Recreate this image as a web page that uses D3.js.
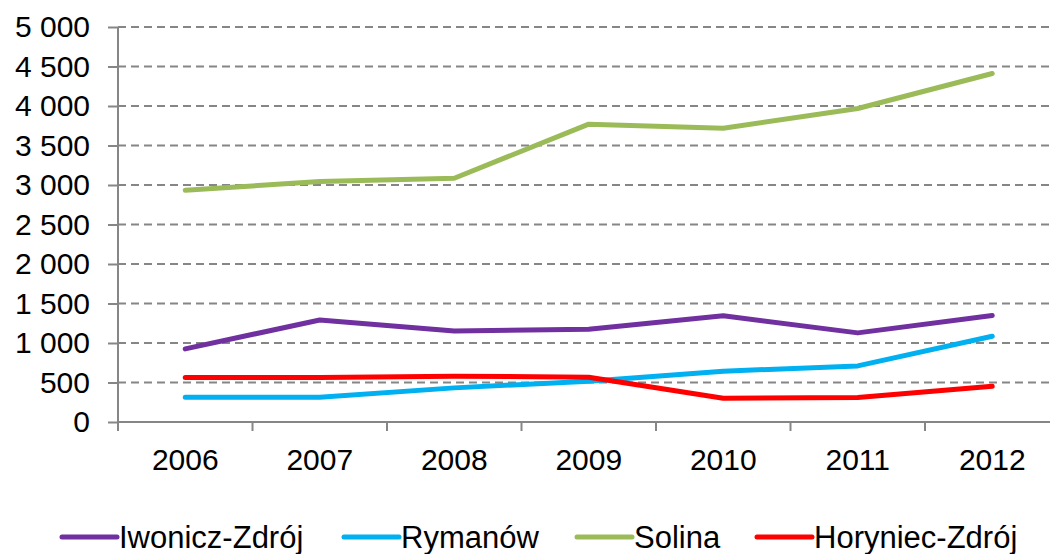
<!DOCTYPE html>
<html>
<head>
    <meta charset="utf-8">
    <title>Liczba mieszkańców</title>
    <script src="https://cdnjs.cloudflare.com/ajax/libs/d3/7.8.5/d3.min.js"></script>
    <style>
        body { margin: 0; background: #fff; }
        svg { display: block; font-family: "Liberation Sans", Arial, sans-serif; }
        .grid line { stroke: #868686; stroke-width: 2px; stroke-dasharray: 8,5; }
        .axis path, .axis line { stroke: #868686; stroke-width: 2px; }
        .axis text { font-size: 30px; fill: #000; }
        .legend text { font-size: 31px; fill: #000; }
    </style>
</head>
<body>
    <div id="chart"></div>
    <script>
        // Data
        const years = ["2006", "2007", "2008", "2009", "2010", "2011", "2012"];
        const seriesNames = ["Iwonicz-Zdrój", "Rymanów", "Solina", "Horyniec-Zdrój"];
        const seriesColors = ["#7030A0", "#00B0F0", "#9BBB59", "#FF0000"];
        const iwonicz = [925, 1292, 1153, 1175, 1345, 1128, 1348];
        const rymanow = [314, 314, 432, 516, 643, 710, 1086];
        const solina = [2934, 3044, 3086, 3770, 3719, 3968, 4411];
        const horyniec = [563, 563, 580, 567, 301, 310, 453];
        const yTicks = [0, 500, 1000, 1500, 2000, 2500, 3000, 3500, 4000, 4500, 5000];

        const seriesValues = [iwonicz, rymanow, solina, horyniec];

        const W = 1050, H = 554;
        const plot = {left: 118, right: 1059.5, top: 27, bottom: 422};

        const svg = d3.select("#chart").append("svg")
            .attr("width", W)
            .attr("height", H);

        const x = d3.scaleBand().domain(years).range([plot.left, plot.right]);
        const y = d3.scaleLinear().domain([0, 5000]).range([plot.bottom, plot.top]);

        const pl = d3.formatLocale({decimal: ",", thousands: "\u00a0", grouping: [3], currency: ["", " zł"]});
        const fmt = pl.format(",d");

        // Dashed gridlines
        svg.append("g").attr("class", "grid")
            .selectAll("line")
            .data(yTicks.filter(d => d > 0))
            .join("line")
                .attr("x1", plot.left)
                .attr("x2", W)
                .attr("y1", d => y(d))
                .attr("y2", d => y(d));

        // Y axis
        const yAxis = svg.append("g")
            .attr("class", "axis")
            .attr("transform", `translate(${plot.left},0)`)
            .call(d3.axisLeft(y).tickValues(yTicks).tickFormat(fmt).tickSize(10).tickPadding(18).tickSizeOuter(0));
        yAxis.select(".domain").attr("d", `M0,${plot.bottom}V${plot.top}`);

        // X axis: labels at category centres, ticks at category boundaries
        const xAxis = svg.append("g")
            .attr("class", "axis")
            .attr("transform", `translate(0,${plot.bottom})`)
            .call(d3.axisBottom(x).tickSize(0).tickPadding(27).tickSizeOuter(0));
        xAxis.select(".domain").attr("d", `M${plot.left},0H${W}`);
        xAxis.selectAll(".bound")
            .data(years)
            .join("line")
                .attr("class", "bound")
                .attr("x1", d => x(d))
                .attr("x2", d => x(d))
                .attr("y1", 0)
                .attr("y2", 9);

        // Lines
        const line = d3.line()
            .x((d, i) => x(years[i]) + x.bandwidth() / 2)
            .y(d => y(d));

        svg.append("g")
            .selectAll("path")
            .data(seriesValues)
            .join("path")
                .attr("fill", "none")
                .attr("stroke", (d, i) => seriesColors[i])
                .attr("stroke-width", 5)
                .attr("stroke-linejoin", "round")
                .attr("stroke-linecap", "round")
                .attr("d", line);

        // Legend
        const legendX = [62, 344, 577, 757];
        const legend = svg.append("g").attr("class", "legend")
            .selectAll("g")
            .data(seriesNames)
            .join("g")
                .attr("transform", (d, i) => `translate(${legendX[i]},537)`);
        legend.append("line")
            .attr("x1", 0).attr("x2", 55)
            .attr("y1", 0).attr("y2", 0)
            .attr("stroke", (d, i) => seriesColors[i])
            .attr("stroke-width", 5)
            .attr("stroke-linecap", "round");
        legend.append("text")
            .attr("x", 57)
            .attr("y", 11)
            .text(d => d);
    </script>
</body>
</html>
